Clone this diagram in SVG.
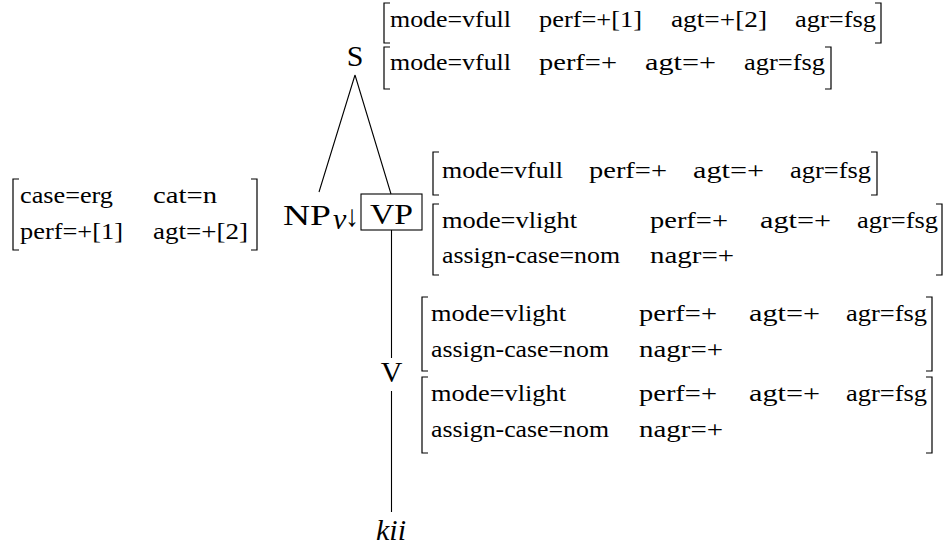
<svg xmlns="http://www.w3.org/2000/svg" width="943" height="548" viewBox="0 0 943 548">
<style>
.t{font-family:"Liberation Serif","DejaVu Serif",serif;font-size:24px;fill:#000}
.lb{font-family:"Liberation Serif","DejaVu Serif",serif;font-size:30px;fill:#000}
.it{font-style:italic}
.br{fill:none;stroke:#000;stroke-width:1.2}
.e{fill:none;stroke:#000;stroke-width:1.1}
</style>
<rect width="943" height="548" fill="#fff"/>
<g id="connectors">
<path class="e" d="M355 75L319 192M355 75L391 194M391.5 230V358M391.5 391V512"/>
</g>
<g id="S">
<text class="lb" x="355" y="66" text-anchor="middle">S</text>
<path class="br" d="M390 3H384V43H390M875 3H881V43H875"/>
<text class="t" y="27"><tspan x="390" textLength="121" lengthAdjust="spacingAndGlyphs">mode=vfull</tspan><tspan x="539" textLength="103" lengthAdjust="spacingAndGlyphs">perf=+[1]</tspan><tspan x="671" textLength="96" lengthAdjust="spacingAndGlyphs">agt=+[2]</tspan><tspan x="795" textLength="81" lengthAdjust="spacingAndGlyphs">agr=fsg</tspan></text>
<path class="br" d="M390 47H384V89H390M825 47H831V89H825"/>
<text class="t" y="70"><tspan x="390" textLength="121" lengthAdjust="spacingAndGlyphs">mode=vfull</tspan><tspan x="539" textLength="78" lengthAdjust="spacingAndGlyphs">perf=+</tspan><tspan x="645" textLength="71" lengthAdjust="spacingAndGlyphs">agt=+</tspan><tspan x="744" textLength="81" lengthAdjust="spacingAndGlyphs">agr=fsg</tspan></text>
</g>
<g id="NP">
<path class="br" d="M19 179H13V250H19M251 179H257V250H251"/>
<text class="t" y="203"><tspan x="20" textLength="93" lengthAdjust="spacingAndGlyphs">case=erg</tspan><tspan x="153" textLength="64" lengthAdjust="spacingAndGlyphs">cat=n</tspan></text>
<text class="t" y="239"><tspan x="20" textLength="103" lengthAdjust="spacingAndGlyphs">perf=+[1]</tspan><tspan x="153" textLength="95" lengthAdjust="spacingAndGlyphs">agt=+[2]</tspan></text>
<text class="lb" x="283" y="225" textLength="48" lengthAdjust="spacingAndGlyphs">NP</text>
<text class="lb it" x="333" y="229" font-size="18">v</text>
<text class="lb" x="345" y="226" font-size="32" textLength="14" lengthAdjust="spacingAndGlyphs">↓</text>
</g>
<g id="VP">
<rect x="361" y="194" width="61" height="36" fill="none" stroke="#000" stroke-width="1.1"/>
<text class="lb" x="370" y="224" textLength="43" lengthAdjust="spacingAndGlyphs">VP</text>
<path class="br" d="M439 152H433V195H439M871 152H877V195H871"/>
<text class="t" y="178"><tspan x="442" textLength="121" lengthAdjust="spacingAndGlyphs">mode=vfull</tspan><tspan x="589" textLength="78" lengthAdjust="spacingAndGlyphs">perf=+</tspan><tspan x="693" textLength="71" lengthAdjust="spacingAndGlyphs">agt=+</tspan><tspan x="790" textLength="81" lengthAdjust="spacingAndGlyphs">agr=fsg</tspan></text>
<path class="br" d="M439 204H433V275H439M936 204H942V275H936"/>
<text class="t" y="228"><tspan x="442" textLength="135" lengthAdjust="spacingAndGlyphs">mode=vlight</tspan><tspan x="650" textLength="78" lengthAdjust="spacingAndGlyphs">perf=+</tspan><tspan x="760" textLength="71" lengthAdjust="spacingAndGlyphs">agt=+</tspan><tspan x="857" textLength="81" lengthAdjust="spacingAndGlyphs">agr=fsg</tspan></text>
<text class="t" y="263"><tspan x="442" textLength="178" lengthAdjust="spacingAndGlyphs">assign-case=nom</tspan><tspan x="650" textLength="84" lengthAdjust="spacingAndGlyphs">nagr=+</tspan></text>
</g>
<g id="V">
<text class="lb" x="391.5" y="382" text-anchor="middle">V</text>
<path class="br" d="M428 297H422V371H428M926 297H932V371H926"/>
<text class="t" y="321"><tspan x="431" textLength="135" lengthAdjust="spacingAndGlyphs">mode=vlight</tspan><tspan x="639" textLength="78" lengthAdjust="spacingAndGlyphs">perf=+</tspan><tspan x="749" textLength="71" lengthAdjust="spacingAndGlyphs">agt=+</tspan><tspan x="846" textLength="81" lengthAdjust="spacingAndGlyphs">agr=fsg</tspan></text>
<text class="t" y="357"><tspan x="431" textLength="178" lengthAdjust="spacingAndGlyphs">assign-case=nom</tspan><tspan x="639" textLength="84" lengthAdjust="spacingAndGlyphs">nagr=+</tspan></text>
<path class="br" d="M428 377H422V453H428M926 377H932V453H926"/>
<text class="t" y="401"><tspan x="431" textLength="135" lengthAdjust="spacingAndGlyphs">mode=vlight</tspan><tspan x="639" textLength="78" lengthAdjust="spacingAndGlyphs">perf=+</tspan><tspan x="749" textLength="71" lengthAdjust="spacingAndGlyphs">agt=+</tspan><tspan x="846" textLength="81" lengthAdjust="spacingAndGlyphs">agr=fsg</tspan></text>
<text class="t" y="437"><tspan x="431" textLength="178" lengthAdjust="spacingAndGlyphs">assign-case=nom</tspan><tspan x="639" textLength="84" lengthAdjust="spacingAndGlyphs">nagr=+</tspan></text>
</g>
<g id="kii">
<text class="lb it" x="391" y="540" text-anchor="middle">kii</text>
</g>
</svg>
